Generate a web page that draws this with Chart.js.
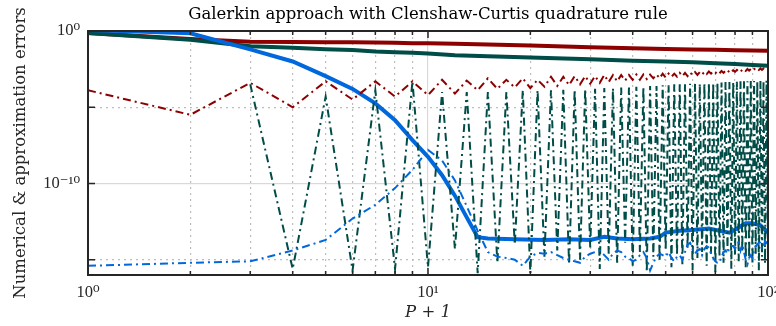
<!DOCTYPE html>
<html lang="en">
<head>
    <meta charset="UTF-8">
    <title>Galerkin approach with Clenshaw-Curtis quadrature rule</title>
    <style>
        html, body { margin: 0; padding: 0; background: #fff; }
        #errChart { display: block; }
    </style>
</head>
<body>
    <canvas id="errChart" width="776" height="326"></canvas>
    <script src="https://cdn.jsdelivr.net/npm/chart.js"></script>
    <script>
        // x values: P + 1
        const pAxis = [1, 2, 3, 4, 5, 6, 7, 8, 9, 10, 11, 12, 13, 14, 15, 16, 17, 18, 19, 20,
            21, 22, 23, 24, 25, 26, 27, 28, 29, 30, 31, 32, 33, 34, 35, 36, 37, 38, 39, 40,
            41, 42, 43, 44, 45, 46, 47, 48, 49, 50, 51, 52, 53, 54, 55, 56, 57, 58, 59, 60,
            61, 62, 63, 64, 65, 66, 67, 68, 69, 70, 71, 72, 73, 74, 75, 76, 77, 78, 79, 80,
            81, 82, 83, 84, 85, 86, 87, 88, 89, 90, 91, 92, 93, 94, 95, 96, 97, 98, 99, 100];

        // smooth (solid) curves, read at fewer P+1 values
        const solidP = [1, 2, 3, 4, 5, 6, 7, 8, 9, 10, 12, 15, 20, 30, 40, 50, 60, 70, 80, 90, 100];
        const redSolid = [0.74, 0.3, 0.2, 0.19, 0.185, 0.18, 0.175, 0.17, 0.16, 0.155, 0.145,
            0.13, 0.11, 0.085, 0.073, 0.066, 0.062, 0.058, 0.055, 0.052, 0.05];
        const tealSolid = [0.75, 0.27, 0.1, 0.08, 0.063, 0.056, 0.045, 0.04, 0.037, 0.034, 0.026,
            0.022, 0.018, 0.014, 0.011, 0.01, 0.0088, 0.0076, 0.0068, 0.0059, 0.0053];

        const blueP = [1, 2, 3, 4, 5, 6, 7, 8, 9, 10, 11, 12, 13, 14, 15, 18, 22, 26, 30, 33, 36,
            40, 45, 48, 50, 55, 60, 67, 72, 77, 82, 86, 90, 95, 100];
        const blueSolid = [1.15, 0.7, 0.063, 0.01, 1.1e-3, 1.6e-4, 1.8e-5, 1.4e-6, 7e-8, 5.6e-9,
            3.5e-10, 1.6e-11, 6e-13, 3e-14, 2.5e-14, 2.2e-14, 2e-14, 2.2e-14, 2e-14, 3.2e-14, 2.5e-14,
            2.2e-14, 2.5e-14, 3.2e-14, 6e-14, 8e-14, 9e-14, 1.1e-13, 8e-14, 6e-14, 1.3e-13, 2.5e-13,
            2.5e-13, 1.8e-13, 6e-14];

        // dash-dot curves, one value per P+1
        const redDash = [1.3e-4, 3.2e-6, 4e-4, 1e-5, 5e-4, 3.2e-5, 5e-4, 5e-5, 5e-4, 6.3e-5,
            6.3e-4, 7.9e-5, 5.6e-4, 1.3e-4, 7.9e-4, 1.6e-4, 6.3e-4, 2e-4, 7.9e-4, 1.8e-4,
            6.3e-4, 2.2e-4, 1e-3, 2.5e-4, 1e-3, 2.8e-4, 1.1e-3, 3.2e-4, 1.1e-3, 3.5e-4,
            1.1e-3, 4e-4, 1.3e-3, 4.5e-4, 1.3e-3, 5e-4, 1.3e-3, 5.6e-4, 1.3e-3, 6.3e-4,
            1.4e-3, 6.3e-4, 1.4e-3, 7.1e-4, 1.4e-3, 7.9e-4, 1.4e-3, 7.9e-4, 1.6e-3, 8.9e-4,
            1.6e-3, 1e-3, 1.6e-3, 1e-3, 1.8e-3, 1.1e-3, 1.8e-3, 1.1e-3, 1.9e-3, 1.3e-3,
            2e-3, 1.3e-3, 2e-3, 1.4e-3, 2.1e-3, 1.5e-3, 2.2e-3, 1.6e-3, 2.2e-3, 1.7e-3,
            2.3e-3, 1.7e-3, 2.4e-3, 1.8e-3, 2.5e-3, 1.9e-3, 2.6e-3, 2e-3, 2.7e-3, 2.1e-3,
            2.8e-3, 2.2e-3, 2.9e-3, 2.3e-3, 3e-3, 2.4e-3, 3.2e-3, 2.5e-3, 3.2e-3, 2.6e-3,
            3.3e-3, 2.7e-3, 3.4e-3, 2.8e-3, 3.5e-3, 2.8e-3, 3.5e-3, 3e-3, 3.6e-3, 3.2e-3];

        const tealDash = [null, null, 3.2e-4, 2.5e-16, 5e-5, 2e-16, 1.3e-4, 2.5e-16, 5e-4, 3.2e-16,
            1e-4, 5e-15, 1e-4, 1.3e-16, 1e-4, 6.3e-16, 1e-4, 1e-14, 1.3e-4, 1.3e-16,
            1.3e-4, 1.6e-15, 1.3e-4, 4e-15, 1.4e-4, 5e-16, 1.4e-4, 1e-15, 1.6e-4, 6.3e-15,
            1.6e-4, 2.5e-16, 1.8e-4, 2.5e-15, 1.8e-4, 6.3e-16, 2e-4, 1.3e-14, 2e-4, 4e-16,
            2.2e-4, 3.2e-15, 2.2e-4, 1.6e-16, 2.5e-4, 1.6e-15, 2.5e-4, 7.9e-16, 2.8e-4, 4e-15,
            2.8e-4, 3.2e-16, 3.2e-4, 2e-15, 3.2e-4, 5e-16, 3.2e-4, 5e-15, 3.5e-4, 2e-16,
            3.5e-4, 1.3e-15, 3.5e-4, 3.2e-15, 4e-4, 4e-16, 4e-4, 2.5e-15, 4e-4, 1.6e-16,
            4.2e-4, 1.6e-15, 4.2e-4, 6.3e-16, 4.5e-4, 4e-15, 4.5e-4, 2.5e-16, 4.7e-4, 2e-15,
            4.7e-4, 7.9e-16, 5e-4, 3.2e-15, 5e-4, 3.2e-16, 5e-4, 1.3e-15, 5.2e-4, 5e-16,
            5.2e-4, 2.5e-15, 5.4e-4, 2e-16, 5.4e-4, 1.6e-15, 5.6e-4, 6.3e-16, 5.6e-4, 2.5e-15];

        const blueDash = [4e-16, 6.3e-16, 7.9e-16, 4e-15, 2e-14, 5e-13, 4e-12, 5e-11, 7.9e-10, 1.6e-8,
            3.2e-9, 1.6e-10, 3.2e-12, 7.9e-14, 3.2e-15, 1.6e-15, 1.3e-15, 1e-15, 4e-16, 1.6e-15,
            2.8e-15, 2.5e-15, 3.2e-15, 2e-15, 1.3e-15, 1e-15, 7.9e-16, 6.3e-16, 1.6e-15, 2.5e-15,
            3.2e-15, 4e-15, 2e-15, 1e-15, 2.5e-15, 4e-15, 3.2e-15, 1.6e-15, 1.3e-15, 7.9e-16,
            1e-15, 2e-15, 3.2e-15, 1.3e-15, 2e-16, 6.3e-16, 1.6e-15, 2.5e-15, 2e-15, 1.6e-15,
            3.2e-15, 1.3e-15, 7.9e-16, 1.6e-15, 2e-15, 1e-15, 3.2e-15, 1e-14, 1.3e-14, 5e-15,
            2.5e-15, 4e-15, 5e-15, 2e-15, 5e-15, 7.9e-15, 6.3e-15, 2.5e-15, 1.3e-15, 7.9e-16,
            6.3e-16, 6.3e-16, 1.6e-15, 3.2e-15, 4e-15, 2.5e-15, 6.3e-15, 7.9e-15, 7.9e-15, 5e-15,
            1e-14, 1.3e-14, 4e-15, 1e-14, 3.2e-15, 1e-15, 5e-16, 1.3e-15, 2e-15, 1.3e-15,
            4e-15, 7.9e-15, 1e-14, 1.3e-14, 1.3e-14, 5e-15, 7.9e-15, 1.6e-14, 1.3e-14, 2e-14];

        // ticks
        const xTicks = [1, 2, 3, 4, 5, 6, 7, 8, 9, 10, 20, 30, 40, 50, 60, 70, 80, 90, 100];
        const xMajor = [1, 10, 100];
        const xLabels = ['10\u2070', '10\u00B9', '10\u00B2'];
        const yTicks = [1e-15, 1e-10, 1e-5, 1];
        const yLabelled = [1, 1e-10];
        const yLabels = ['10\u2070', '10\u207B\u00B9\u2070'];

        const RED = '#8c0000';
        const TEAL = '#004c47';
        const BLUE = '#0068dc';
        const INK = '#262626';
        const TEXT_FONT = '"DejaVu Serif", "Liberation Serif", serif';
        const TICK_FONT = '"Liberation Serif", "DejaVu Serif", serif';

        const pts = (xs, ys) => xs.map((x, i) => ({ x: x, y: ys[i] }));

        function line(data, color, dashed, order) {
            return {
                data: data,
                borderColor: color,
                borderWidth: dashed ? 2 : 4,
                borderDash: dashed ? [8, 4, 2, 4] : [],
                pointRadius: 0,
                fill: false,
                tension: 0,
                clip: 0,
                order: order
            };
        }

        // inward tick marks and the box around the axes
        const boxTicks = {
            id: 'boxTicks',
            afterDraw(chart) {
                const { ctx, chartArea: a, scales: { x, y } } = chart;
                ctx.save();
                ctx.strokeStyle = INK;
                ctx.lineWidth = 1.5;
                ctx.beginPath();
                xTicks.forEach(v => {
                    const px = x.getPixelForValue(v);
                    const len = xMajor.includes(v) ? 7 : 4;
                    ctx.moveTo(px, a.bottom); ctx.lineTo(px, a.bottom - len);
                    ctx.moveTo(px, a.top); ctx.lineTo(px, a.top + len);
                });
                yTicks.forEach(v => {
                    const py = y.getPixelForValue(v);
                    ctx.moveTo(a.left, py); ctx.lineTo(a.left + 7, py);
                    ctx.moveTo(a.right, py); ctx.lineTo(a.right - 7, py);
                });
                ctx.stroke();
                ctx.lineWidth = 2;
                ctx.strokeRect(a.left, a.top, a.right - a.left, a.bottom - a.top);
                ctx.restore();
            }
        };

        const config = {
            type: 'line',
            data: {
                datasets: [
                    line(pts(solidP, redSolid), RED, false, 5),
                    line(pts(solidP, tealSolid), TEAL, false, 4),
                    line(pts(blueP, blueSolid), BLUE, false, 3),
                    line(pts(pAxis, redDash), RED, true, 2),
                    line(pts(pAxis, tealDash), TEAL, true, 1),
                    line(pts(pAxis, blueDash), BLUE, true, 0)
                ]
            },
            options: {
                responsive: false,
                animation: false,
                layout: { padding: { left: 0, right: 8, top: 0, bottom: 0 } },
                plugins: {
                    legend: { display: false },
                    tooltip: { enabled: false },
                    title: {
                        display: true,
                        text: 'Galerkin approach with Clenshaw-Curtis quadrature rule',
                        fullSize: false,
                        color: '#000',
                        font: { family: TEXT_FONT, size: 16.5, weight: 'normal' },
                        padding: { top: 5, bottom: 6.2 }
                    }
                },
                scales: {
                    x: {
                        type: 'logarithmic',
                        min: 1,
                        max: 100,
                        afterBuildTicks: s => { s.ticks = xTicks.map(v => ({ value: v })); },
                        afterFit: s => { s.height = 51; s.paddingLeft = 0; s.paddingRight = 0; },
                        ticks: {
                            autoSkip: false,
                            maxRotation: 0,
                            padding: 8,
                            color: INK,
                            font: { family: TICK_FONT, size: 16.5 },
                            callback: v => {
                                const i = xMajor.indexOf(v);
                                return i >= 0 ? xLabels[i] : '';
                            }
                        },
                        grid: {
                            drawTicks: false,
                            lineWidth: 1.2,
                            color: c => {
                                const v = c.tick ? c.tick.value : null;
                                if (v === 1 || v === 100) return 'rgba(0,0,0,0)';
                                return v === 10 ? '#d9d9d9' : '#bdbdbd';
                            }
                        },
                        border: {
                            display: false,
                            dash: c => (c.tick && !xMajor.includes(c.tick.value)) ? [2, 4] : []
                        },
                        title: {
                            display: true,
                            text: 'P + 1',
                            color: INK,
                            font: { family: TEXT_FONT, size: 16.5, style: 'italic' },
                            padding: { top: 0, bottom: 3 }
                        }
                    },
                    y: {
                        type: 'logarithmic',
                        min: 1e-16,
                        max: 1,
                        afterBuildTicks: s => { s.ticks = yTicks.map(v => ({ value: v })); },
                        afterFit: s => { s.width = 88; s.paddingTop = 0; s.paddingBottom = 0; },
                        ticks: {
                            autoSkip: false,
                            padding: 8,
                            color: INK,
                            font: { family: TICK_FONT, size: 16.5 },
                            callback: v => {
                                const i = yLabelled.indexOf(v);
                                return i >= 0 ? yLabels[i] : '';
                            }
                        },
                        grid: {
                            drawTicks: false,
                            lineWidth: 1.2,
                            color: c => {
                                const v = c.tick ? c.tick.value : null;
                                if (v === 1) return 'rgba(0,0,0,0)';
                                return v === 1e-10 ? '#d9d9d9' : '#bdbdbd';
                            }
                        },
                        border: {
                            display: false,
                            dash: c => (c.tick && c.tick.value !== 1e-10) ? [2, 4] : []
                        },
                        title: {
                            display: true,
                            text: 'Numerical & approximation errors',
                            color: INK,
                            font: { family: TEXT_FONT, size: 16.5 },
                            padding: { top: 11, bottom: 0 }
                        }
                    }
                }
            },
            plugins: [boxTicks]
        };

        const errChart = new Chart(document.getElementById('errChart'), config);
    </script>
</body>
</html>
